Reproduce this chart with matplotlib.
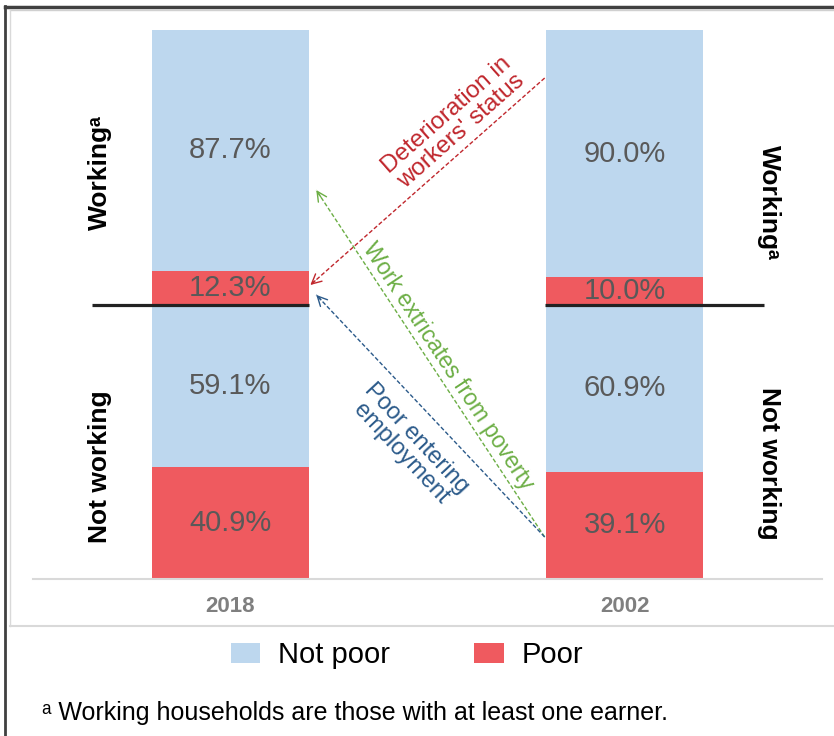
import matplotlib
matplotlib.use("Agg")
import matplotlib.pyplot as plt
from matplotlib.lines import Line2D
from matplotlib.patches import Patch

plt.rcParams['font.family'] = ['Liberation Sans', 'DejaVu Sans']

# %% Data ---------------------------------------------------------------------------------------------------------------
years = ["2018", "2002"]
nw_poor = [40.9, 39.1]        # not working households, poor
nw_not_poor = [59.1, 60.9]    # not working households, not poor
w_poor = [12.3, 10.0]         # working households, poor
w_not_poor = [87.7, 90.0]     # working households, not poor

arrow_labels = ["Deterioration in\nworkers' status", "Work extricates from poverty", "Poor entering\nemployment"]
legend_labels = ["Not poor", "Poor"]
footnote = "ᵃ Working households are those with at least one earner."

blue = "#BDD7EE"
red = "#EF5A5F"
val_col = "#595959"

# %% Figure -------------------------------------------------------------------------------------------------------------
fig = plt.figure(figsize=(8.34, 7.36), dpi=100)
ax = fig.add_axes([33 / 834, 1 - 579 / 736, 789 / 834, 549 / 736])

x = range(len(years))
width = 0.397
nw_top = [a + b for a, b in zip(nw_poor, nw_not_poor)]
w_bottom = [t + p for t, p in zip(nw_top, w_poor)]

ax.bar(x, nw_poor, width, color=red)
ax.bar(x, nw_not_poor, width, bottom=nw_poor, color=blue)
ax.bar(x, w_poor, width, bottom=nw_top, color=red)
ax.bar(x, w_not_poor, width, bottom=w_bottom, color=blue)

# value labels in the middle of each segment
for i in x:
    segs = [(0, nw_poor[i]), (nw_poor[i], nw_not_poor[i]), (nw_top[i], w_poor[i]), (w_bottom[i], w_not_poor[i])]
    for b, h in segs:
        ax.text(i, b + h / 2, f"{h:.1f}%", ha="center", va="center", fontsize=21, color=val_col)

# working / not working divider
ax.plot([-0.35, 0.2], [100, 100], color="#222222", lw=2.3, solid_capstyle="butt")
ax.plot([0.8 - 0.002, 1.353], [100, 100], color="#222222", lw=2.3, solid_capstyle="butt")

# side labels
ax.text(-0.33, 148, "Workingᵃ", rotation=90, ha="center", va="center", fontsize=19, fontweight="bold")
ax.text(-0.33, 41, "Not working", rotation=90, ha="center", va="center", fontsize=19, fontweight="bold")
ax.text(1.365, 137, "Workingᵃ", rotation=-90, ha="center", va="center", fontsize=19, fontweight="bold")
ax.text(1.365, 42, "Not working", rotation=-90, ha="center", va="center", fontsize=19, fontweight="bold")


# dashed arrows with open heads
def dashed_arrow(start, end, color):
    ax.plot([start[0], end[0]], [start[1], end[1]], color=color, lw=1, ls=(0, (3, 1.6)))
    near = (end[0] + (start[0] - end[0]) * 0.02, end[1] + (start[1] - end[1]) * 0.02)
    ax.annotate("", xy=end, xytext=near,
                arrowprops=dict(arrowstyle="->,head_length=0.7,head_width=0.35", color=color, lw=1,
                                shrinkA=0, shrinkB=0))


dashed_arrow((0.797, 182.5), (0.203, 107.1), "#C0272D")
dashed_arrow((0.797, 15.3), (0.218, 141.7), "#6CAE45")
dashed_arrow((0.797, 15.3), (0.218, 103.5), "#2B5A8A")

ax.text(0.567, 166, arrow_labels[0], rotation=41.5, ha="center", va="center", fontsize=17.5,
        color="#C0272D", linespacing=0.95, rotation_mode="anchor")
ax.text(0.552, 77.5, arrow_labels[1], rotation=-56.5, ha="center", va="center", fontsize=16.5,
        color="#6CAE45", rotation_mode="anchor")
ax.text(0.452, 48.5, arrow_labels[2], rotation=-47, ha="center", va="center", fontsize=17,
        color="#2B5A8A", linespacing=0.95, rotation_mode="anchor")

ax.set_xlim(-0.5, 1.5)
ax.set_ylim(0, 200)
ax.set_xticks(list(x))
ax.set_xticklabels(years, fontsize=16, fontweight="bold", color="#7F7F7F")
ax.tick_params(axis="x", length=0, pad=12)
ax.set_yticks([])
for s in ["top", "left", "right"]:
    ax.spines[s].set_visible(False)
ax.spines["bottom"].set_color("#D9D9D9")
ax.spines["bottom"].set_linewidth(1.5)

# legend
handles = [Patch(facecolor=blue), Patch(facecolor=red)]
fig.legend(handles, legend_labels, loc="center", bbox_to_anchor=(0.488, 1 - 655 / 736), ncol=2,
           frameon=False, fontsize=21, handlelength=1.0, handleheight=0.68, handletextpad=0.6,
           columnspacing=2.9)

fig.text(42 / 834, 1 - 713 / 736, footnote, fontsize=18, va="center", ha="left")

# frames
fig.add_artist(Line2D([5 / 834, 1], [1 - 7 / 736, 1 - 7 / 736], color="#404040", lw=2.5))
fig.add_artist(Line2D([5 / 834, 5 / 834], [0, 1 - 6 / 736], color="#404040", lw=2))
fig.add_artist(Line2D([10 / 834, 1], [1 - 10 / 736, 1 - 10 / 736], color="#D0D0D0", lw=1))
fig.add_artist(Line2D([10 / 834, 10 / 834], [1 - 626 / 736, 1 - 10 / 736], color="#D9D9D9", lw=1))
fig.add_artist(Line2D([10 / 834, 1], [1 - 626 / 736, 1 - 626 / 736], color="#D9D9D9", lw=1.5))

fig.savefig("out.png", dpi=100)
